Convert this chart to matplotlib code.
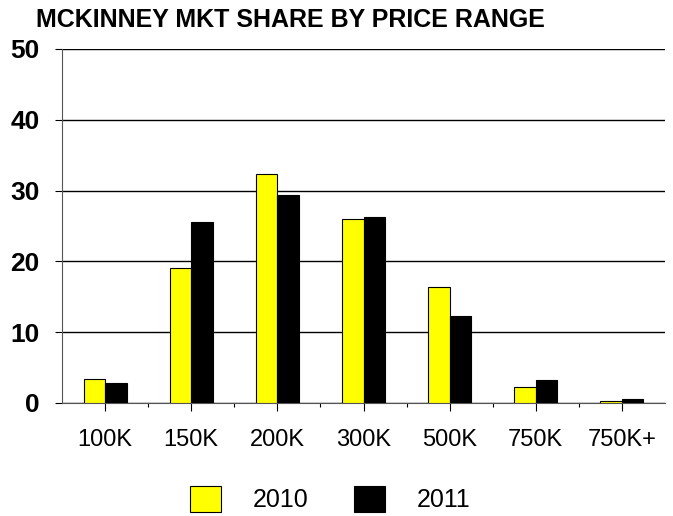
import matplotlib.pyplot as plt
import numpy as np

plt.rcParams['font.family'] = ['Liberation Sans', 'DejaVu Sans']

categories = ['100K', '150K', '200K', '300K', '500K', '750K', '750K+']
share_2010 = [3.35, 19.1, 32.35, 26.0, 16.4, 2.2, 0.35]
share_2011 = [2.8, 25.55, 29.4, 26.25, 12.3, 3.2, 0.55]
years = ['2010', '2011']

fig = plt.figure(figsize=(6.73, 5.16), dpi=100)
ax = fig.add_axes([62 / 673, 113 / 516, 603 / 673, 354 / 516])

x = np.arange(len(categories))
w = 0.25
ax.bar(x - w / 2, share_2010, w, color='#ffff00', edgecolor='black', linewidth=0.8, label=years[0], zorder=3)
ax.bar(x + w / 2, share_2011, w, color='black', edgecolor='black', linewidth=0.8, label=years[1], zorder=3)

ax.set_xlim(-0.5, len(categories) - 0.5)
ax.set_ylim(0, 50)
ax.set_yticks([0, 10, 20, 30, 40, 50])
ax.yaxis.grid(True, color='black', linewidth=1, zorder=0)

ax.set_xticks(x)
ax.set_xticklabels(categories, fontsize=17)
ax.set_xticks(x[:-1] + 0.5, minor=True)
ax.tick_params(axis='x', which='major', length=6, width=0.8, pad=13)
ax.tick_params(axis='x', which='minor', length=3, width=0.8)
ax.tick_params(axis='y', length=5, width=0.8, labelsize=19, pad=11)
for lbl in ax.get_yticklabels():
    lbl.set_fontweight('bold')

for s in ['top', 'right']:
    ax.spines[s].set_visible(False)
ax.spines['left'].set_color('#555555')
ax.spines['bottom'].set_color('#555555')

fig.text(36 / 673, 1 - 20 / 516, 'MCKINNEY MKT SHARE BY PRICE RANGE', fontsize=18,
         fontweight='bold', va='center', ha='left')

fig.legend(loc='center', bbox_to_anchor=(330 / 673, 1 - 499 / 516), ncol=2, frameon=False,
           fontsize=18, handlelength=1.25, handleheight=1.28, handletextpad=1.28, columnspacing=1.8)

fig.savefig('out.png', dpi=100)
